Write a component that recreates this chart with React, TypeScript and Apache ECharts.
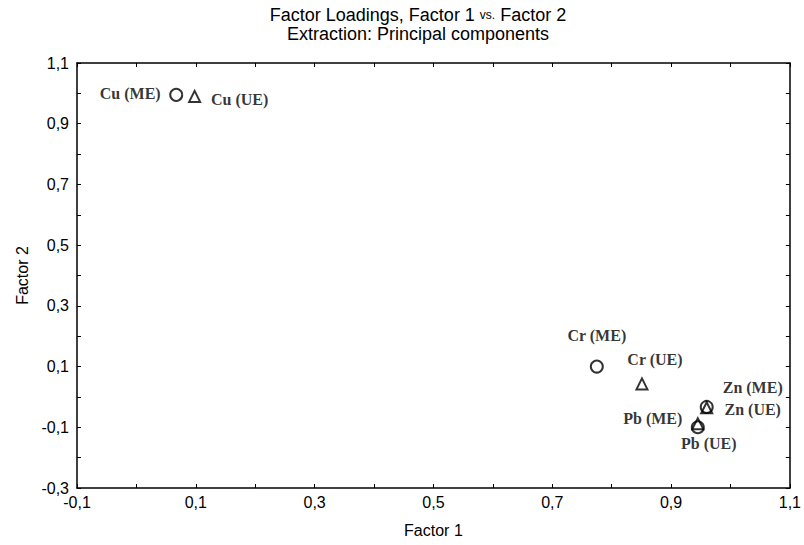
import React, { useEffect, useRef } from "react";
import * as echarts from "echarts";

const meNames = ["Cu (ME)", "Cr (ME)", "Zn (ME)", "Pb (ME)"];
const meX = [0.067, 0.775, 0.96, 0.945];
const meY = [0.995, 0.1, -0.033, -0.1];

const ueNames = ["Cu (UE)", "Cr (UE)", "Zn (UE)", "Pb (UE)"];
const ueX = [0.098, 0.851, 0.96, 0.945];
const ueY = [0.99, 0.043, -0.036, -0.088];

// label offsets (px) relative to the marker centre
const meOffsets = [[-46, -1], [0, -31], [46, -19], [-45, -9]];
const ueOffsets = [[45, 3], [13, -24], [46, 2], [11, 20]];

const xMin = -0.1, xMax = 1.1, yMin = -0.3, yMax = 1.1, step = 0.2;

const fmt = (v: number) => {
  const s = (Math.round(v * 10) / 10).toFixed(1).replace(".", ",");
  return s === "-0,0" ? "0,0" : s;
};

const sans = "'Liberation Sans Narrow', 'Arial Narrow', 'Liberation Sans', Arial, sans-serif";
const serif = "'Liberation Serif', 'Times New Roman', serif";

function build(names: string[], xs: number[], ys: number[], offs: number[][]) {
  return names.map((n, i) => ({
    name: n,
    value: [xs[i], ys[i]],
    label: {
      show: true,
      position: "inside",
      offset: offs[i],
      formatter: n,
      fontFamily: serif,
      fontWeight: "bold",
      fontSize: 16,
      color: "#000",
    },
  }));
}

export default function App() {
  const ref = useRef<HTMLDivElement>(null);
  useEffect(() => {
    if (!ref.current) return;
    const chart = echarts.init(ref.current, undefined, { renderer: "svg" });
    const tickCommon = {
      axisLine: { show: true, onZero: false, lineStyle: { color: "#000", width: 1.5 } },
      axisTick: { show: true, inside: true, length: 4, lineStyle: { color: "#000" } },
      minorTick: { show: true, splitNumber: 2, length: 4, lineStyle: { color: "#000" } },
      splitLine: { show: false },
    };
    chart.setOption({
      animation: false,
      backgroundColor: "#fff",
      title: {
        text: "Factor Loadings, Factor 1 {s|vs.} Factor 2\nExtraction: Principal components",
        left: 413,
        top: 0,
        textAlign: "center",
        textStyle: {
          fontFamily: sans,
          fontSize: 18,
          fontWeight: "normal",
          color: "#000",
          lineHeight: 19,
          rich: { s: { fontFamily: sans, fontSize: 12, color: "#000" } },
        },
      },
      grid: { left: 77, right: 14, top: 63, bottom: 57 },
      xAxis: [
        {
          type: "value",
          min: xMin,
          max: xMax,
          interval: step,
          name: "Factor 1",
          nameLocation: "middle",
          nameGap: 34,
          nameTextStyle: { fontFamily: sans, fontSize: 16, color: "#000" },
          axisLabel: { fontFamily: sans, fontSize: 16, color: "#000", margin: 6, formatter: fmt },
          ...tickCommon,
        },
        {
          type: "value",
          position: "top",
          min: xMin,
          max: xMax,
          interval: step,
          axisLabel: { show: false },
          ...tickCommon,
        },
      ],
      yAxis: [
        {
          type: "value",
          min: yMin,
          max: yMax,
          interval: step,
          name: "Factor 2",
          nameLocation: "middle",
          nameGap: 47,
          nameTextStyle: { fontFamily: sans, fontSize: 16, color: "#000" },
          axisLabel: { fontFamily: sans, fontSize: 16, color: "#000", margin: 8, formatter: fmt },
          ...tickCommon,
        },
        {
          type: "value",
          position: "right",
          min: yMin,
          max: yMax,
          interval: step,
          axisLabel: { show: false },
          ...tickCommon,
        },
      ],
      series: [
        {
          type: "scatter",
          name: "ME",
          symbol: "circle",
          symbolSize: 12,
          itemStyle: { color: "transparent", borderColor: "#000", borderWidth: 2 },
          data: build(meNames, meX, meY, meOffsets),
        },
        {
          type: "scatter",
          name: "UE",
          symbol: "triangle",
          symbolSize: 11,
          itemStyle: { color: "transparent", borderColor: "#000", borderWidth: 2 },
          data: build(ueNames, ueX, ueY, ueOffsets),
        },
      ],
    });
    return () => chart.dispose();
  }, []);
  return (
    <div
      ref={ref}
      style={{ position: "absolute", left: 0, top: 0, width: 804, height: 545 }}
    />
  );
}
